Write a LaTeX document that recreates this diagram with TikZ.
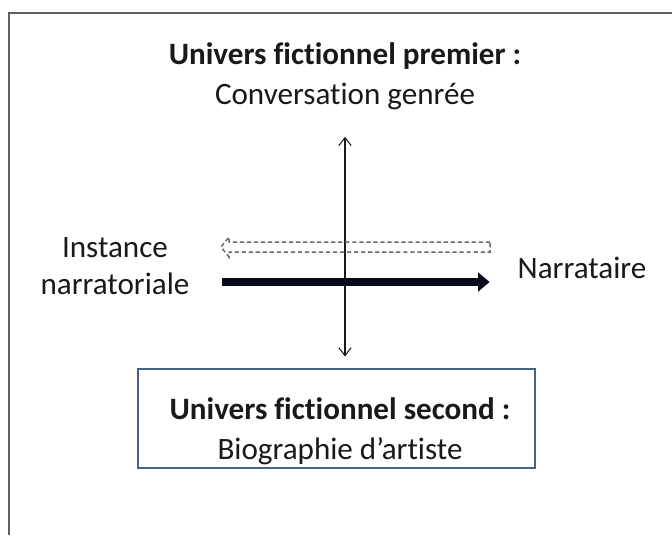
\documentclass[tikz,border=0pt]{standalone}
\usepackage{fontspec}
\setmainfont{Carlito}[Ligatures=NoCommon]
\usetikzlibrary{arrows.meta,positioning,calc}
\definecolor{nfink}{RGB}{25,25,25}
\definecolor{nfframe}{RGB}{95,95,95}
\definecolor{nfghost}{RGB}{105,105,105}
\definecolor{nfnavy}{RGB}{8,10,28}
\definecolor{nfbox}{RGB}{68,98,140}

\begin{document}
\begin{tikzpicture}[
  x=0.02cm, y=-0.02cm,
  font=\fontsize{17.7}{22.7}\selectfont,
  title/.style={align=center, text=nfink},
  frame/.style={draw=nfframe, line width=0.85pt},
  panel/.style={draw=nfbox, line width=0.7pt, minimum width=7.94cm, minimum height=1.98cm},
  axis/.style={{Straight Barb[length=4.5pt,width=7pt]}-{Straight Barb[length=4.5pt,width=7pt]},
    nfink, line width=0.6pt},
  heavy/.style={-{Triangle[length=6.5pt,width=11pt,line width=0pt]}, nfnavy, line width=5pt},
  ghost/.style={draw=nfghost, dash pattern=on 2.4pt off 1.6pt, line width=0.85pt}
]
\useasboundingbox (0,0) rectangle (672,535);
\draw[frame] (9,535) |- (672,13);

\node[title] (premier) at (345,76) {\textbf{Univers fictionnel premier :}\\Conversation genrée};
\node[title] (instance) at (115,266) {Instance\\[-1.7pt]narratoriale};
\node[title] (narrataire) at (582,268) {Narrataire};
\node[panel] (second) at (336.5,418.5) {};
\node[title] (secondtxt) at (340,431) {\textbf{Univers fictionnel second :}\\Biographie d’artiste};

% vertical axis between the two universes
\draw[axis, shorten <=12pt, shorten >=6.8pt] (premier.south) -- (premier.south |- second.north);

% narration: returned (dashed, hollow) and emitted (solid)
\draw[ghost] (490,242) -- (229,242) -- (229,237) -- (221,247) -- (229,257)
  -- (229,252) -- (490,252) -- cycle;
\coordinate (heavyrow) at (0,282);
\draw[heavy, shorten <=15pt, shorten >=12.5pt] (instance.east |- heavyrow) -- (narrataire.west |- heavyrow);
\end{tikzpicture}
\end{document}
